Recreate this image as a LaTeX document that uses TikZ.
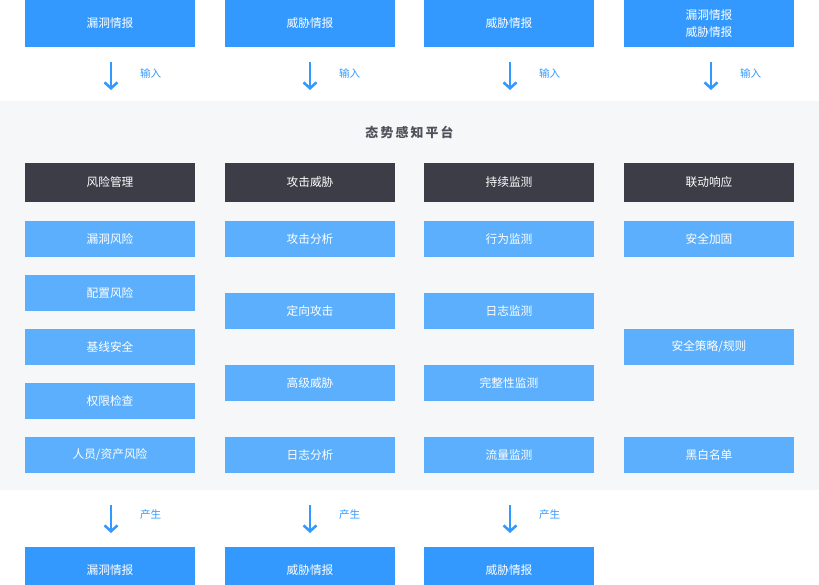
\documentclass[tikz,border=0pt]{standalone}
\usepackage{fontspec}
\setmainfont{Noto Sans CJK SC}
\usetikzlibrary{arrows.meta}
\definecolor{infoblue}{HTML}{3399FF}
\definecolor{itemblue}{HTML}{5CAFFC}
\definecolor{headdark}{HTML}{3D3D48}
\definecolor{bandgray}{HTML}{F5F7F9}
\definecolor{arrowblue}{HTML}{3399FF}
\tikzset{
  px/.style={x=0.03cm,y=-0.03cm},
  infobox/.style={fill=infoblue, text=white, minimum width=5.1cm, minimum height=1.41cm, inner sep=0pt, font=\fontsize{10}{14}\selectfont, align=center},
  headbox/.style={fill=headdark, text=white, minimum width=5.1cm, minimum height=1.17cm, inner sep=0pt, font=\fontsize{10}{12}\selectfont},
  itembox/.style={fill=itemblue, text=white, minimum width=5.1cm, minimum height=1.08cm, inner sep=0pt, font=\fontsize{10}{12}\selectfont},
  flowarrow/.style={arrowblue, line width=2.2pt, -{Straight Barb[length=5pt,width=11pt]}},
  flowlabel/.style={text=arrowblue, font=\fontsize{9}{11}\selectfont, anchor=west}
}
\begin{document}
\begin{tikzpicture}[px]
\useasboundingbox (0,0) rectangle (819,584);
\fill[bandgray] (0,101) rectangle (819,490);
% top inputs
\node[infobox] (in1) at (110,23.5) {漏洞情报};
\node[infobox] (in2) at (310,23.5) {威胁情报};
\node[infobox] (in3) at (509,23.5) {威胁情报};
\node[infobox] (in4) at (709,23.5) {漏洞情报\\威胁情报};
\foreach \x/\n in {111/1,310/2,510/3,711/4}{
  \coordinate (ia\n) at (\x,62);
  \coordinate (ib\n) at (\x,90);
  \draw[flowarrow] (ia\n) -- (ib\n);
  \node[flowlabel] (il\n) at (\x+25,73) {输入};
}
\node[font=\fontsize{11}{13}\selectfont\bfseries, text=headdark!90] (title) at (409.5,132) {态\,势\,感\,知\,平\,台};
% headers
\node[headbox] (h1) at (110,182.5) {风险管理};
\node[headbox] (h2) at (310,182.5) {攻击威胁};
\node[headbox] (h3) at (509,182.5) {持续监测};
\node[headbox] (h4) at (709,182.5) {联动响应};
% items
\node[itembox] (r1) at (110,239) {漏洞风险};
\node[itembox] (r2) at (110,293) {配置风险};
\node[itembox] (r3) at (110,347) {基线安全};
\node[itembox] (r4) at (110,401) {权限检查};
\node[itembox] (r5) at (110,455) {人员/资产风险};
\node[itembox] (a1) at (310,239) {攻击分析};
\node[itembox] (a2) at (310,311) {定向攻击};
\node[itembox] (a3) at (310,383) {高级威胁};
\node[itembox] (a4) at (310,455) {日志分析};
\node[itembox] (m1) at (509,239) {行为监测};
\node[itembox] (m2) at (509,311) {日志监测};
\node[itembox] (m3) at (509,383) {完整性监测};
\node[itembox] (m4) at (509,455) {流量监测};
\node[itembox] (s1) at (709,239) {安全加固};
\node[itembox] (s2) at (709,347) {安全策略/规则};
\node[itembox] (s3) at (709,455) {黑白名单};
% outputs
\foreach \x/\n in {111/1,310/2,510/3}{
  \coordinate (oa\n) at (\x,505);
  \coordinate (ob\n) at (\x,533);
  \draw[flowarrow] (oa\n) -- (ob\n);
  \node[flowlabel] (ol\n) at (\x+25,515) {产生};
}
\node[infobox] (out1) at (110,570.5) {漏洞情报};
\node[infobox] (out2) at (310,570.5) {威胁情报};
\node[infobox] (out3) at (509,570.5) {威胁情报};
\end{tikzpicture}
\end{document}
